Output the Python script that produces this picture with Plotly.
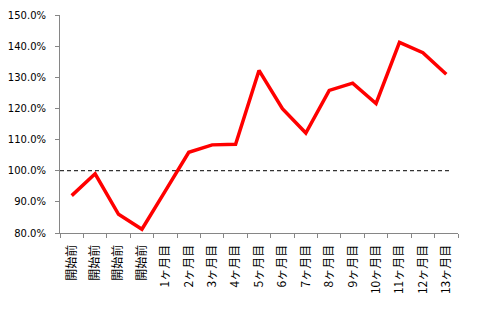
import plotly.graph_objects as go

labels = ["開始前", "開始前", "開始前", "開始前", "1ヶ月目", "2ヶ月目", "3ヶ月目", "4ヶ月目",
          "5ヶ月目", "6ヶ月目", "7ヶ月目", "8ヶ月目", "9ヶ月目", "10ヶ月目", "11ヶ月目",
          "12ヶ月目", "13ヶ月目"]
values = [0.920, 0.990, 0.860, 0.812, 0.935, 1.059, 1.083, 1.085, 1.322, 1.199,
          1.121, 1.258, 1.281, 1.216, 1.412, 1.379, 1.310]
baseline = 1.0
y_ticks = [0.8, 0.9, 1.0, 1.1, 1.2, 1.3, 1.4, 1.5]

xs = list(range(len(labels)))

fig = go.Figure()
fig.add_trace(go.Scatter(x=xs, y=values, mode="lines",
                         line=dict(color="#FF0000", width=3.5), hoverinfo="skip"))
fig.add_shape(type="line", xref="x", yref="y", x0=-0.5, x1=16.2, y0=baseline, y1=baseline,
              line=dict(color="black", width=1, dash="4px,3px"), layer="below")

fig.update_layout(
    width=480, height=320,
    margin=dict(l=60, r=22, t=15, b=87),
    plot_bgcolor="white", paper_bgcolor="white",
    showlegend=False,
    xaxis=dict(
        range=[-0.5, len(labels) - 0.5],
        tickmode="array", tickvals=xs, ticktext=labels,
        tickangle=-90, ticks="outside", ticklen=4, tickcolor="rgba(0,0,0,0)",
        ticklabelstandoff=2, automargin=False,
        showline=True, linecolor="#868686", linewidth=1,
        showgrid=False, zeroline=False,
        tickfont=dict(family="Noto Sans CJK JP", size=12, color="black"),
        minor=dict(tickmode="linear", tick0=-0.5, dtick=1, ticks="outside",
                   ticklen=4, tickcolor="#868686", showgrid=False),
    ),
    yaxis=dict(
        range=[0.8, 1.5], tickmode="array", tickvals=y_ticks, tickformat=".1%",
        ticks="outside", ticklen=4, tickcolor="#868686", ticklabelstandoff=7,
        automargin=False,
        showline=True, linecolor="#868686", linewidth=1,
        showgrid=False, zeroline=False,
        tickfont=dict(family="DejaVu Sans", size=10, color="black"),
    ),
)

fig.write_html("out.html")
